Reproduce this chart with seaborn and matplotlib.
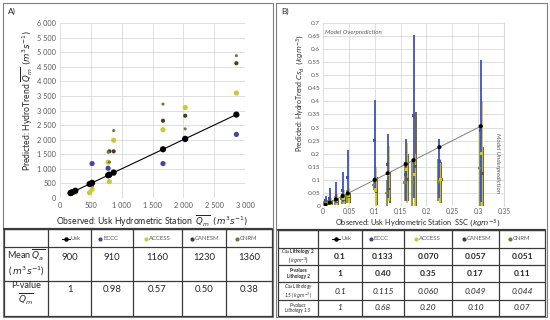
import numpy as np
import pandas as pd
import matplotlib
matplotlib.use("Agg")
import matplotlib.pyplot as plt
import seaborn as sns
from matplotlib.ticker import FuncFormatter, MultipleLocator

# ---------------- Panel A data (mean monthly discharge, m3/s) ----------------
usk_q    = [170, 180, 200, 250, 480, 520, 780, 800, 870, 1670, 2030, 2860]
eccc_q   = [160, 170, 190, 240, 470, 1180, 1020, 780, 880, 1180, 2000, 2180]
access_q = [150, 160, 170, 200, 180, 300, 1230, 560, 1980, 2340, 3100, 3600]
canesm_q = [170, 180, 200, 230, 480, 450, 800, 1600, 1600, 2650, 2820, 4620]
cnrm_q   = [180, 190, 210, 250, 500, 420, 1570, 1230, 2310, 3220, 2370, 4880]

series_names = ["Usk", "ECCC", "ACCESS", "CANESM", "CNRM"]
table_a_mean = ["900", "910", "1160", "1230", "1360"]
table_a_p = ["1", "0.98", "0.57", "0.50", "0.38"]

# ---------------- Panel B data (SSC, kg/m3) ----------------
usk_ssc = [0.005, 0.013, 0.025, 0.038, 0.048, 0.1, 0.125, 0.16, 0.175, 0.225, 0.305]
eccc_c  = [0.02, 0.03, 0.04, 0.06, 0.11, 0.25, 0.16, 0.12, 0.345, 0.17, 0.29]
eccc_lo = [0.005, 0.008, 0.01, 0.015, 0.03, 0.07, 0.03, 0.02, 0.03, 0.03, 0.015]
eccc_hi = [0.04, 0.07, 0.092, 0.13, 0.214, 0.405, 0.275, 0.257, 0.654, 0.257, 0.56]
access_c  = [0.01, 0.015, 0.02, 0.03, 0.04, 0.06, 0.12, 0.14, 0.12, 0.1, 0.2]
access_lo = [0.002, 0.004, 0.005, 0.008, 0.01, 0.0, 0.02, 0.01, 0.0, 0.01, 0.0]
access_hi = [0.02, 0.03, 0.045, 0.06, 0.07, 0.15, 0.23, 0.24, 0.2, 0.18, 0.40]
canesm_c  = [0.008, 0.012, 0.018, 0.025, 0.035, 0.055, 0.065, 0.1, 0.15, 0.1, 0.125]
canesm_lo = [0.002, 0.003, 0.004, 0.006, 0.01, 0.005, 0.01, 0.02, 0.0, 0.01, 0.0]
canesm_hi = [0.015, 0.022, 0.03, 0.045, 0.05, 0.11, 0.13, 0.2, 0.36, 0.17, 0.225]
cnrm_c  = [0.012, 0.016, 0.022, 0.03, 0.04, 0.08, 0.05, 0.09, 0.09, 0.095, 0.145]
cnrm_lo = [0.003, 0.004, 0.005, 0.007, 0.01, 0.06, 0.0, 0.02, 0.0, 0.02, 0.0]
cnrm_hi = [0.02, 0.03, 0.04, 0.05, 0.06, 0.1, 0.1, 0.17, 0.17, 0.18, 0.3]

table_b_cs2 = ["0.1", "0.133", "0.070", "0.057", "0.051"]
table_b_p2 = ["1", "0.40", "0.35", "0.17", "0.11"]
table_b_cs15 = ["0.1", "0.115", "0.060", "0.049", "0.044"]
table_b_p15 = ["1", "0.68", "0.20", "0.10", "0.07"]

# ---------------- styling ----------------
sns.set_style("white")
plt.rcParams['font.family'] = ['Lato', 'DejaVu Sans']
plt.rcParams['mathtext.fontset'] = 'dejavusans'

col_a = {"Usk": "black", "ECCC": "#45469a", "ACCESS": "#c3cc3c",
         "CANESM": "#4a3c22", "CNRM": "#6f7848"}
col_b = {"Usk": "black", "ECCC": "#3f4fc8", "ACCESS": "#d0cb20",
         "CANESM": "#6a5628", "CNRM": "#7f8c40"}
size_a = {"Usk": 20, "ECCC": 14, "ACCESS": 14, "CANESM": 9, "CNRM": 5}
GRID = "#d9d9d9"
TXT = "#595959"

W, H = 550, 320
fig = plt.figure(figsize=(5.5, 3.2), dpi=100)


def rect(x0, y0, x1, y1):
    return [x0 / W, 1 - y1 / H, (x1 - x0) / W, (y1 - y0) / H]


ov = fig.add_axes([0, 0, 1, 1], zorder=5)
ov.set_xlim(0, W)
ov.set_ylim(H, 0)
ov.axis("off")
ov.patch.set_alpha(0)

# panel frames
for x0, x1 in [(3, 273), (276, 547)]:
    ov.plot([x0, x1, x1, x0, x0], [3, 3, 317, 317, 3], color="#7f7f7f", lw=0.8)
ov.text(8, 11, "A)", fontsize=6, va="center")
ov.text(281, 11, "B)", fontsize=6, va="center")

# ---------------- Panel A plot ----------------
axA = fig.add_axes(rect(60, 23, 245, 198))
dfA = pd.DataFrame({
    "obs": usk_q * 5,
    "pred": usk_q + eccc_q + access_q + canesm_q + cnrm_q,
    "model": sum([[m] * len(usk_q) for m in series_names], []),
})
sns.lineplot(data=dfA[dfA.model == "Usk"], x="obs", y="pred", color="black",
             lw=0.8, ax=axA, sort=True, zorder=3)
order_draw = ["ECCC", "ACCESS", "CANESM", "CNRM", "Usk"]
for m in order_draw:
    sub = dfA[dfA.model == m]
    sns.scatterplot(data=sub, x="obs", y="pred", color=col_a[m], s=size_a[m],
                    edgecolor="none", ax=axA, zorder=4, legend=False)
axA.set_xlim(0, 3000)
axA.set_ylim(0, 6000)
axA.xaxis.set_major_locator(MultipleLocator(500))
axA.yaxis.set_major_locator(MultipleLocator(500))
thou = FuncFormatter(lambda v, p: f"{int(v):,}".replace(",", " "))
axA.xaxis.set_major_formatter(thou)
axA.yaxis.set_major_formatter(thou)
axA.grid(True, color=GRID, lw=0.6)
axA.set_axisbelow(True)
for s in axA.spines.values():
    s.set_visible(False)
axA.tick_params(labelsize=5.3, colors=TXT, length=0, pad=3)
axA.set_xlabel("")
axA.set_ylabel("")
ov.text(27, 100, r"Predicted: HydroTrend $\overline{Q_m}$  $(m^3s^{-1})$",
        rotation=90, fontsize=6.2, ha="center", va="center")
ov.text(152, 221, r"Observed: Usk Hydrometric Station  $\overline{Q_m}$  $(m^3s^{-1})$",
        fontsize=6.2, ha="center", va="center")

# ---------------- Panel B plot ----------------
axB = fig.add_axes(rect(323, 23, 504, 206))
offs = {"CNRM": -0.002, "CANESM": 0.004, "ACCESS": 0.002, "ECCC": 0.0}
bdata = {"ECCC": (eccc_c, eccc_lo, eccc_hi), "ACCESS": (access_c, access_lo, access_hi),
         "CANESM": (canesm_c, canesm_lo, canesm_hi), "CNRM": (cnrm_c, cnrm_lo, cnrm_hi)}
for m in ["CNRM", "CANESM", "ACCESS", "ECCC"]:
    c, lo, hi = bdata[m]
    xs = np.array(usk_ssc) + offs[m]
    axB.vlines(xs, lo, hi, color=col_b[m], lw=1.3, zorder=2)
    dfm = pd.DataFrame({"x": xs, "y": c})
    sns.scatterplot(data=dfm, x="x", y="y", color=col_b[m], marker="s", s=4,
                    edgecolor="none", ax=axB, zorder=3, legend=False)
dfU = pd.DataFrame({"x": usk_ssc, "y": usk_ssc})
sns.lineplot(data=dfU, x="x", y="y", color="#7f7f7f", lw=0.7, ax=axB, zorder=4)
sns.scatterplot(data=dfU, x="x", y="y", color="black", s=9, edgecolor="none",
                ax=axB, zorder=5, legend=False)
axB.set_xlim(0, 0.35)
axB.set_ylim(0, 0.7)
axB.xaxis.set_major_locator(MultipleLocator(0.05))
axB.yaxis.set_major_locator(MultipleLocator(0.05))
fmtB = FuncFormatter(lambda v, p: ("%.2f" % v).rstrip("0").rstrip("."))
axB.xaxis.set_major_formatter(fmtB)
axB.yaxis.set_major_formatter(fmtB)
axB.grid(True, color=GRID, lw=0.6)
axB.set_axisbelow(True)
for s in axB.spines.values():
    s.set_visible(False)
axB.spines["right"].set_visible(True)
axB.spines["right"].set_color(GRID)
axB.tick_params(axis="y", labelsize=4.6, colors=TXT, length=0, pad=2.0)
axB.tick_params(axis="x", labelsize=4.8, colors=TXT, length=0, pad=1.5)
axB.set_xlabel("")
axB.set_ylabel("")
ov.text(325, 32, "Model Overprediction", fontsize=4.5, style="italic",
        color=TXT, ha="left", va="center")
ov.text(498, 163, "Model Underprediction", fontsize=4.5, style="italic",
        color=TXT, rotation=270, ha="center", va="center")
ov.text(300.5, 93, r"Predicted: HydroTrend $Cs_d$  $(kgm^{-3})$",
        rotation=90, fontsize=5.0, ha="center", va="center")
ov.text(418, 223.5, r"Observed: Usk Hydrometric Station  SSC $(kgm^{-3})$",
        fontsize=5.3, ha="center", va="center")

# ---------------- Tables ----------------
LC = "#3a3a3a"


def grid_lines(xs, ys):
    for y in ys:
        ov.plot([xs[0], xs[-1]], [y, y], color=LC, lw=0.9)
    for x in xs:
        ov.plot([x, x], [ys[0], ys[-1]], color=LC, lw=0.9)
    ov.plot([xs[0], xs[-1]], [ys[0], ys[0]], color=LC, lw=1.6)


def header(xcents, y, dx_dot):
    for i, name in enumerate(series_names):
        xc = xcents[i]
        if name == "Usk":
            ov.plot([xc - 10, xc - 2], [y, y], color="black", lw=0.8)
            ov.plot([xc - 6], [y], "o", color="black", ms=2.2)
            ov.text(xc - 1, y, name, fontsize=4.3, color=TXT, va="center", ha="left")
        else:
            ov.plot([xc - dx_dot], [y], "o", color=col_a[name], ms=2.0)
            ov.text(xc - dx_dot + 3, y, name, fontsize=4.3, color=TXT,
                    va="center", ha="left")


# Table A
xa = [4, 48, 91, 133, 182, 226, 272]
ya = [229, 247, 281, 316]
grid_lines(xa, ya)
ca = [(xa[i] + xa[i + 1]) / 2 for i in range(1, 6)]
header([ca[0] + 2] + ca[1:], 238.5, 12)
ov.text(26, 262.5, "Mean $\\overline{Q_a}$\n( $m^3s^{-1}$)", fontsize=6.5,
        ha="center", va="center", linespacing=1.15)
ov.text(26, 294, "P-value\n$\\overline{Q_m}$", fontsize=6.5,
        ha="center", va="center", linespacing=1.1)
for i in range(5):
    ov.text(ca[i], 257, table_a_mean[i], fontsize=6.8, ha="center", va="center")
    ov.text(ca[i], 289, table_a_p[i], fontsize=6.8, ha="center", va="center")

# Table B
xb = [278, 318, 362, 404, 452, 499, 545]
yb = [230, 248, 265, 282, 300, 316]
grid_lines(xb, yb)
cb = [(xb[i] + xb[i + 1]) / 2 for i in range(1, 6)]
header([cb[0] + 2] + cb[1:], 239, 12)
lx = 298
ov.text(lx, 256.5, "$Cs_d$ Lithology 2\n( $kgm^{-3}$)", fontsize=3.3, weight="bold",
        ha="center", va="center", linespacing=1.1)
ov.text(lx, 273.5, "P-values\nLithology 2", fontsize=3.3, weight="bold",
        ha="center", va="center", linespacing=1.1)
ov.text(lx, 291, "$Cs_d$ Lithology\n1.5 ( $kgm^{-3}$)", fontsize=3.3, style="italic",
        ha="center", va="center", linespacing=1.1)
ov.text(lx, 308, "P-values\nLithology 1.5", fontsize=3.3, style="italic",
        ha="center", va="center", linespacing=1.1)
for i in range(5):
    ov.text(cb[i], 256.5, table_b_cs2[i], fontsize=6, weight="bold", ha="center", va="center")
    ov.text(cb[i], 273.5, table_b_p2[i], fontsize=6, weight="bold", ha="center", va="center")
    ov.text(cb[i], 291, table_b_cs15[i], fontsize=6, style="italic", ha="center", va="center")
    ov.text(cb[i], 308, table_b_p15[i], fontsize=6, style="italic", ha="center", va="center")

fig.savefig("out.png", dpi=100)
